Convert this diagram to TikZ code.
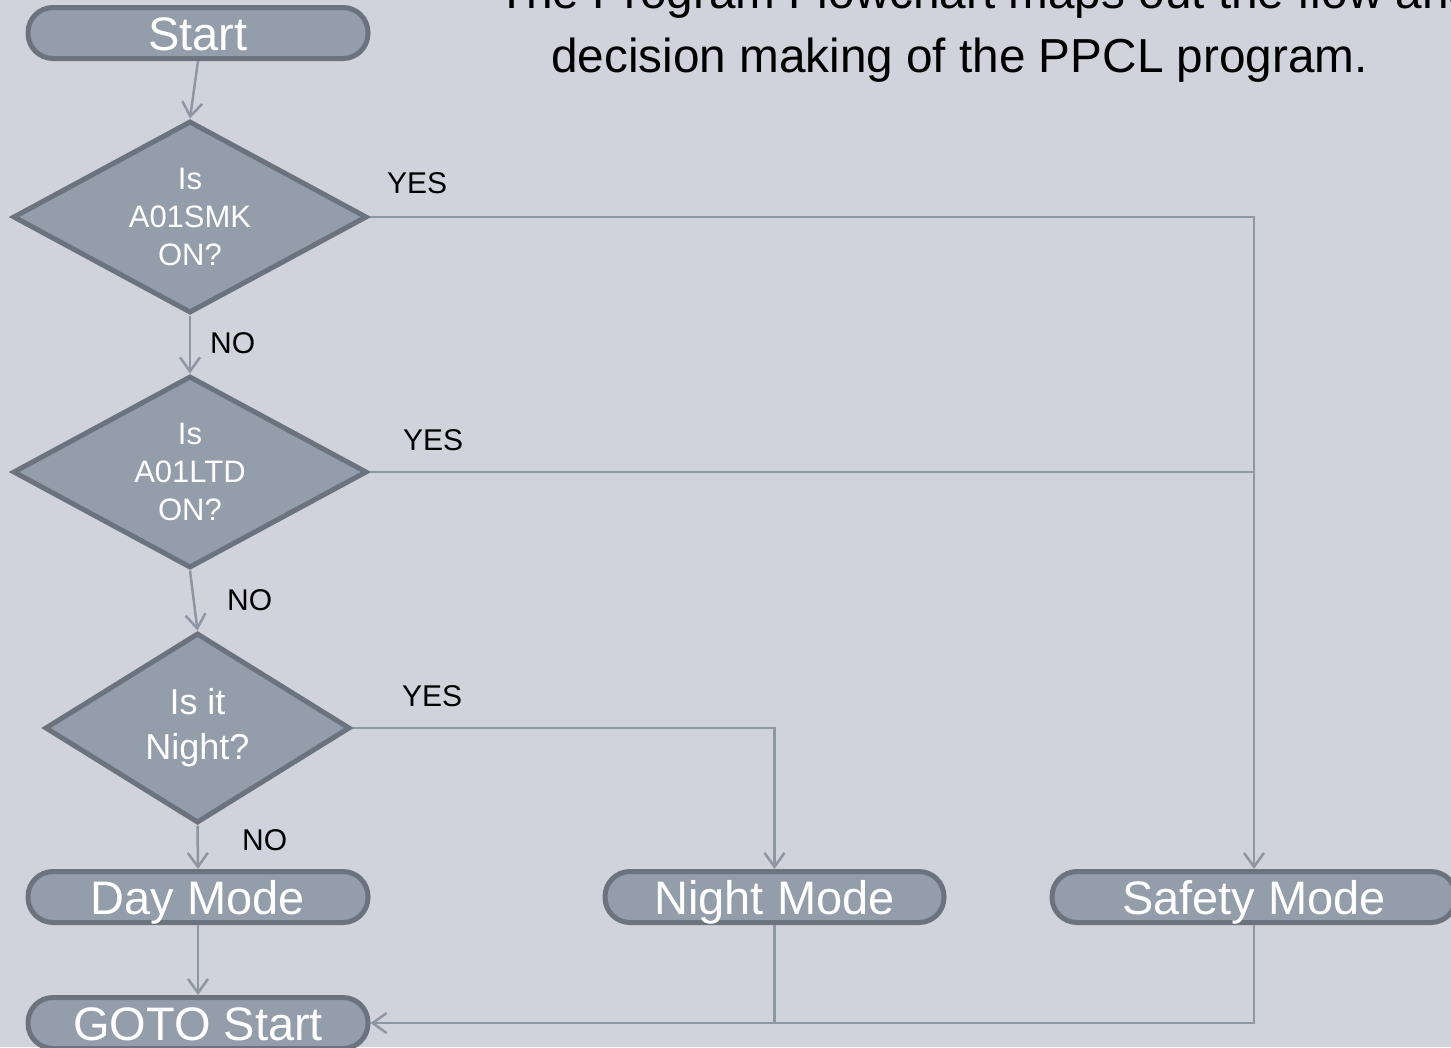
\documentclass[tikz,border=0pt]{standalone}
\usepackage{fontspec}
\setmainfont{Liberation Sans}
\usetikzlibrary{shapes.geometric,arrows.meta}
\definecolor{bgc}{RGB}{208,211,220}
\definecolor{fillc}{RGB}{148,157,170}
\definecolor{edgec}{RGB}{106,115,126}
\definecolor{linec}{RGB}{141,151,163}
\begin{document}
\begin{tikzpicture}[x=1pt,y=-1pt,
  terminal/.style={draw=edgec, line width=5pt, fill=fillc, rounded corners=25pt,
    minimum height=51pt, text=white, font=\fontsize{47}{56}\selectfont,
    inner sep=0pt, text height=35pt, text depth=0pt},
  decision/.style={diamond, aspect=1.84, draw=edgec, line width=5pt, fill=fillc,
    text=white, align=center, inner sep=0pt},
  flow/.style={draw=linec, line width=2.5pt},
  arr/.style={flow, -{Straight Barb[length=14pt,width=20pt,line width=2.5pt]}},
  tag/.style={font=\fontsize{30}{36}\selectfont, inner sep=0pt, anchor=base west},
  heading/.style={font=\fontsize{47.7}{58}\selectfont, inner sep=0pt, anchor=base west}]

% canvas
\useasboundingbox (0,0) rectangle (1451,1047);
\fill[bgc] (0,0) rectangle (1451,1047);
\clip (0,0) rectangle (1451,1047);

% heading
\node[heading] (head1) at (497,8) {The Program Flowchart maps out the flow and};
\node[heading] (head2) at (551,72) {decision making of the PPCL program.};

% terminals
\node[terminal, minimum width=340pt] (start) at (198,33) {Start};
\node[terminal, minimum width=340pt] (day) at (198,897) {Day Mode};
\node[terminal, minimum width=340pt] (goto) at (198,1023) {GOTO Start};
\node[terminal, minimum width=339pt] (night) at (774.5,897) {Night Mode};
\node[terminal, minimum width=404pt] (safety) at (1254,897) {Safety Mode};

% decisions
\node[decision, minimum width=354pt, minimum height=192pt,
  font=\fontsize{31}{38}\selectfont] (smk) at (190,217) {Is\\A01SMK\\ON?};
\node[decision, minimum width=354pt, minimum height=192pt,
  font=\fontsize{31}{38}\selectfont] (ltd) at (190,472) {Is\\A01LTD\\ON?};
\node[decision, minimum width=305pt, minimum height=190pt,
  font=\fontsize{36}{45}\selectfont] (night?) at (197.5,728) {Is it\\Night?};

% main column
\draw[arr] (start.south) -- (smk.north);
\draw[arr] (smk.south) -- (ltd.north);
\draw[arr] (ltd.south) -- (night?.north);
\draw[arr] (night?.south) -- (day.north);
\draw[arr] (day.south) -- (goto.north);

% yes branches
\draw[arr] (smk.east) -| (safety.north);
\draw[flow] (ltd.east) -- (ltd.east -| safety.north);
\draw[arr] (night?.east) -| (night.north);

% return to start
\draw[flow] (safety.south) |- (night.south |- goto.east);
\draw[arr] (night.south) |- (goto.east);

% branch labels
\node[tag] (yes1) at (387,193) {YES};
\node[tag] (no1) at (210,353) {NO};
\node[tag] (yes2) at (403,450) {YES};
\node[tag] (no2) at (227,610) {NO};
\node[tag] (yes3) at (402,706) {YES};
\node[tag] (no3) at (242,850) {NO};
\end{tikzpicture}
\end{document}
